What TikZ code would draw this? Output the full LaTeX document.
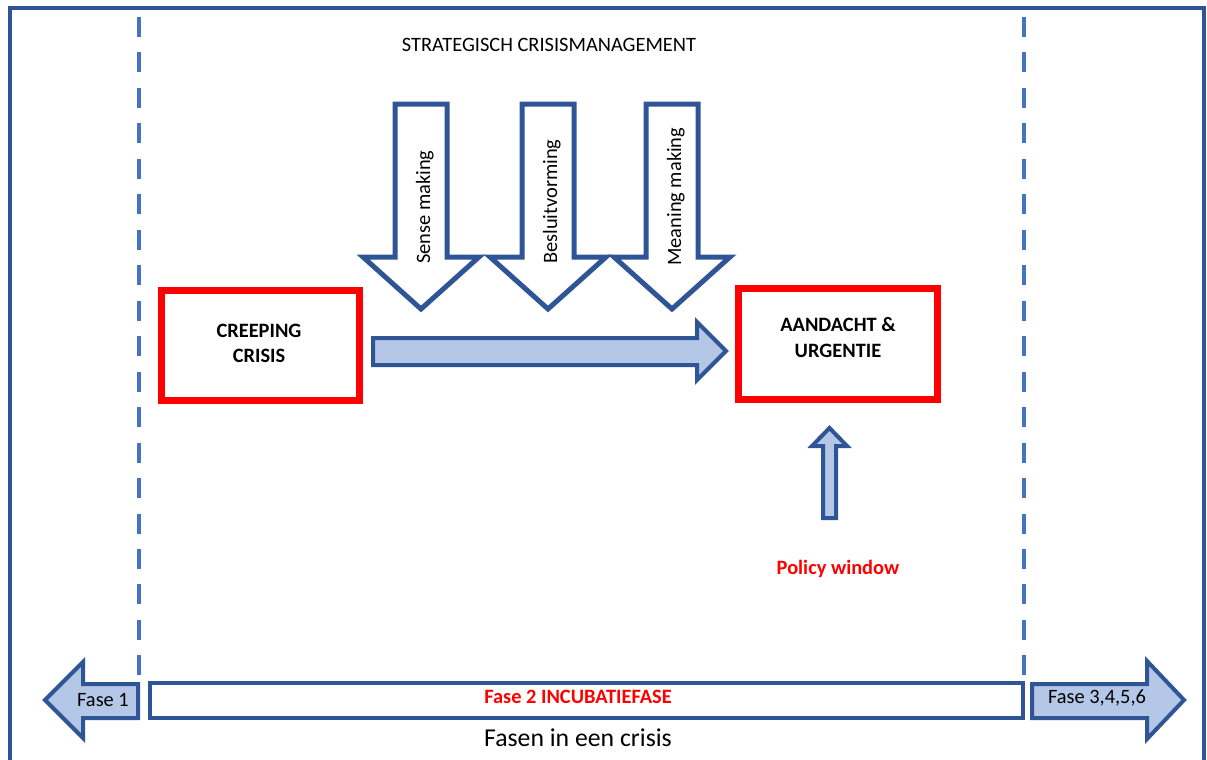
\documentclass[tikz,border=0pt]{standalone}
\usepackage{fontspec}
\setmainfont{Carlito}
\usepackage{xcolor}
\usetikzlibrary{positioning,calc}
\definecolor{darkblue}{HTML}{2F5597}
\definecolor{lightblue}{HTML}{B4C7E7}
\definecolor{dashblue}{HTML}{4472C4}

\begin{document}
\begin{tikzpicture}[x=0.75pt, y=-0.75pt,
    font=\fontsize{15.3}{18.8}\selectfont,
    box/.style={rectangle, draw=red, line width=5.25pt, minimum width=149pt, minimum height=83pt, align=center, font=\fontsize{15.3}{18.8}\selectfont\bfseries},
    lbl/.style={inner sep=0pt},
    block/.style={draw=darkblue, line width=3pt, fill=lightblue, line join=miter},
    downblock/.style={draw=darkblue, line width=3.75pt, fill=white, line join=miter},
    phaseline/.style={dashblue, line width=3pt, dash pattern=on 15pt off 11.6pt}
]
\useasboundingbox (0,0) rectangle (1207,760);

% frame, open at the bottom
\draw[darkblue, line width=3pt] (10,775) -- (10,8) -- (1204,8) -- (1204,775);

% phase borders
\draw[phaseline] (139,17) -- (139,680);
\draw[phaseline] (1024,17) -- (1024,680);

\node[lbl] (title) at (549,45) {STRATEGISCH CRISISMANAGEMENT};

% down arrows
\draw[downblock] (395,104) -- (447,104) -- (447,257) -- (479,257) -- (421,309) -- (363,257) -- (395,257) -- cycle;
\draw[downblock] (522,104) -- (574,104) -- (574,257) -- (606,257) -- (548,309) -- (490,257) -- (522,257) -- cycle;
\draw[downblock] (646,104) -- (698,104) -- (698,257) -- (730,257) -- (672,309) -- (614,257) -- (646,257) -- cycle;
\node[lbl, rotate=90, anchor=base west] (sense) at (430,264) {Sense making};
\node[lbl, rotate=90, anchor=base west] (besluit) at (557,264) {Besluitvorming};
\node[lbl, rotate=90, anchor=base west] (meaning) at (681,266) {Meaning making};

\node[box] (creeping) at (260.5,345.5) {};
\node[lbl, font=\fontsize{15.3}{18.8}\selectfont\bfseries, align=center] (creepingtxt) at (259,343.5) {CREEPING\\CRISIS};
\node[box] (aandacht) at (838,344) {};
\node[lbl, font=\fontsize{15.3}{18.8}\selectfont\bfseries, align=center] (aandachttxt) at (838,337.5) {AANDACHT \&\\URGENTIE};

\draw[block] (373,338) -- (697,338) -- (697,322) -- (726,351) -- (697,380) -- (697,365) -- (373,365) -- cycle;

% policy window
\draw[block] (823,518) -- (823,446) -- (812,446) -- (829.5,428) -- (847,446) -- (836,446) -- (836,518) -- cycle;
\node[lbl, text=red, font=\fontsize{15.3}{18.8}\selectfont\bfseries] (policy) at (838,569) {Policy window};

% phases
\draw[block] (138,684) -- (83,684) -- (83,662) -- (45,700) -- (83,738) -- (83,718) -- (138,718) -- cycle;
\node[lbl] (fase1) at (103,700) {Fase 1};
\node[draw=darkblue, line width=3pt, minimum width=654.75pt, minimum height=26.25pt] (fase2) at (586.5,700.5) {};
\node[lbl, text=red, font=\fontsize{15.3}{18.8}\selectfont\bfseries] (fase2txt) at (578,697) {Fase 2 INCUBATIEFASE};
\draw[block] (1032,684) -- (1147,684) -- (1147,661) -- (1184,700) -- (1147,739) -- (1147,718) -- (1032,718) -- cycle;
\node[lbl] (fase3) at (1097,698) {Fase 3,4,5,6};

\node[lbl, font=\fontsize{19.3}{23}\selectfont] (caption) at (578,738) {Fasen in een crisis};
\end{tikzpicture}
\end{document}
